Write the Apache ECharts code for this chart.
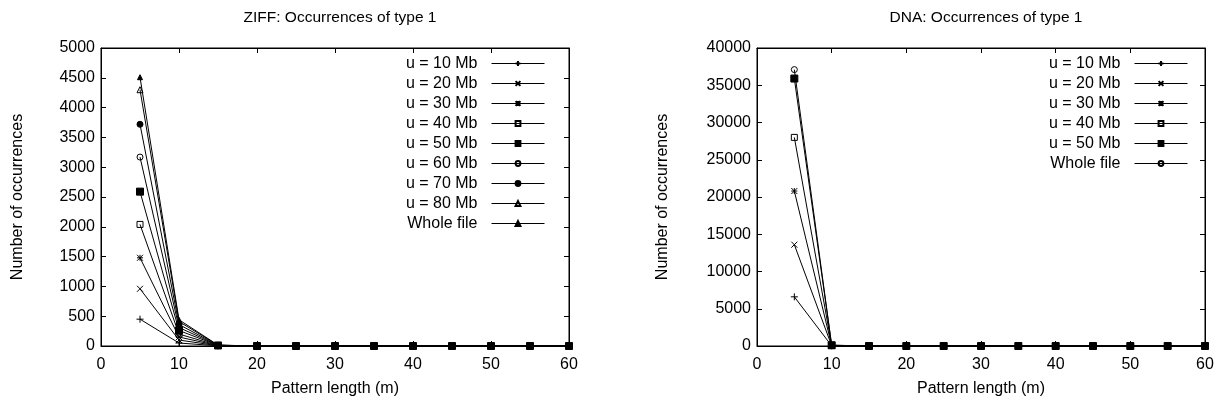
<!DOCTYPE html>
<html>
<head>
<meta charset="utf-8">
<script src="https://cdn.jsdelivr.net/npm/echarts@6/dist/echarts.min.js"></script>
<style>
html,body{margin:0;padding:0;background:#fff;}
#c1{position:absolute;left:0;top:0;width:615px;height:410px;}
#c2{position:absolute;left:615px;top:0;width:615px;height:410px;}
</style>
</head>
<body>
<div id="c1"></div>
<div id="c2"></div>
<script>
// ---- data ----
const patternLengths = [5, 10, 15, 20, 25, 30, 35, 40, 45, 50, 55, 60];

const ziffNames = ['u = 10 Mb', 'u = 20 Mb', 'u = 30 Mb', 'u = 40 Mb', 'u = 50 Mb', 'u = 60 Mb', 'u = 70 Mb', 'u = 80 Mb', 'Whole file'];
const ziff10 = [450, 50, 3, 0, 0, 0, 0, 0, 0, 0, 0, 0];
const ziff20 = [960, 100, 4, 0, 0, 0, 0, 0, 0, 0, 0, 0];
const ziff30 = [1480, 150, 6, 0, 0, 0, 0, 0, 0, 0, 0, 0];
const ziff40 = [2040, 200, 8, 0, 0, 0, 0, 0, 0, 0, 0, 0];
const ziff50 = [2590, 260, 9, 0, 0, 0, 0, 0, 0, 0, 0, 0];
const ziff60 = [3170, 310, 11, 0, 0, 0, 0, 0, 0, 0, 0, 0];
const ziff70 = [3720, 360, 12, 0, 0, 0, 0, 0, 0, 0, 0, 0];
const ziff80 = [4300, 410, 14, 0, 0, 0, 0, 0, 0, 0, 0, 0];
const ziffWhole = [4510, 440, 15, 0, 0, 0, 0, 0, 0, 0, 0, 0];
const ziffSeries = [ziff10, ziff20, ziff30, ziff40, ziff50, ziff60, ziff70, ziff80, ziffWhole];

const dnaNames = ['u = 10 Mb', 'u = 20 Mb', 'u = 30 Mb', 'u = 40 Mb', 'u = 50 Mb', 'Whole file'];
const dna10 = [6600, 20, 0, 0, 0, 0, 0, 0, 0, 0, 0, 0];
const dna20 = [13600, 40, 0, 0, 0, 0, 0, 0, 0, 0, 0, 0];
const dna30 = [20800, 60, 0, 0, 0, 0, 0, 0, 0, 0, 0, 0];
const dna40 = [28000, 80, 0, 0, 0, 0, 0, 0, 0, 0, 0, 0];
const dna50 = [35900, 100, 0, 0, 0, 0, 0, 0, 0, 0, 0, 0];
const dnaWhole = [37100, 110, 0, 0, 0, 0, 0, 0, 0, 0, 0, 0];
const dnaSeries = [dna10, dna20, dna30, dna40, dna50, dnaWhole];

// ---- styling helpers ----
const FONT = 'Liberation Sans, Arial, Helvetica, sans-serif';
const OPEN = 'rgba(255,255,255,0)';
const PLUS = 'path://M0,5L10,5M5,0L5,10';
const CROSS = 'path://M0,0L10,10M0,10L10,0';
const STAR = 'path://M0,0L10,10M0,10L10,0M5,0L5,10M0,5L10,5';
const markers = [
  {symbol: PLUS, size: 7, fill: '#000'},
  {symbol: CROSS, size: 6, fill: '#000'},
  {symbol: STAR, size: 6, fill: '#000'},
  {symbol: 'rect', size: 6, fill: OPEN},
  {symbol: 'rect', size: 7, fill: '#000'},
  {symbol: 'circle', size: 6, fill: OPEN},
  {symbol: 'circle', size: 6, fill: '#000'},
  {symbol: 'triangle', size: 6, fill: OPEN},
  {symbol: 'triangle', size: 5, fill: '#000'}
];

function makeSeries(names, arrays, markerIdx) {
  return names.map((n, i) => {
    const m = markers[markerIdx[i]];
    return {
      name: n,
      type: 'line',
      xAxisIndex: 0,
      yAxisIndex: 0,
      data: patternLengths.map((x, k) => [x, arrays[i][k]]),
      symbol: m.symbol,
      symbolSize: m.size,
      showAllSymbol: true,
      clip: false,
      lineStyle: {color: '#000', width: 1},
      itemStyle: {color: m.fill, borderColor: '#000', borderWidth: 1},
      emphasis: {disabled: true},
      animation: false
    };
  });
}

function axisCommon() {
  return {
    axisLine: {show: true, onZero: false, lineStyle: {color: '#000', width: 1}},
    axisTick: {show: true, inside: true, length: 5, lineStyle: {color: '#000', width: 1}},
    splitLine: {show: false},
    axisLabel: {color: '#000', fontSize: 16, fontFamily: FONT, formatter: (v) => String(v)}
  };
}

function makeOption(cfg) {
  const xa = Object.assign(axisCommon(), {
    type: 'value', min: 0, max: 60, interval: 10, position: 'bottom',
    name: 'Pattern length (m)', nameLocation: 'middle', nameGap: 35,
    nameTextStyle: {color: '#000', fontSize: 16, fontFamily: FONT}
  });
  xa.axisLabel.margin = 11;
  const xaTop = Object.assign(axisCommon(), {
    type: 'value', min: 0, max: 60, interval: 10, position: 'top'
  });
  xaTop.axisLabel.show = false;
  const ya = Object.assign(axisCommon(), {
    type: 'value', min: 0, max: cfg.ymax, interval: cfg.yint, position: 'left',
    name: 'Number of occurrences', nameLocation: 'middle', nameGap: cfg.yNameGap,
    nameTextStyle: {color: '#000', fontSize: 16, fontFamily: FONT}
  });
  ya.axisLabel.margin = 6;
  const yaRight = Object.assign(axisCommon(), {
    type: 'value', min: 0, max: cfg.ymax, interval: cfg.yint, position: 'right'
  });
  yaRight.axisLabel.show = false;

  return {
    animation: false,
    backgroundColor: '#fff',
    title: {
      text: cfg.title, left: cfg.titleCenter, top: 5, textAlign: 'center',
      textStyle: {color: '#000', fontSize: 15.5, fontWeight: 'normal', fontFamily: FONT}
    },
    grid: {left: cfg.gridLeft, top: 48, width: cfg.gridWidth, height: 298,
           show: true, borderColor: '#000', borderWidth: 1, backgroundColor: 'transparent'},
    xAxis: [xa, xaTop],
    yAxis: [ya, yaRight],
    legend: {
      orient: 'vertical', align: 'right', right: cfg.legendRight, top: 53.5,
      padding: 0, itemGap: 0, itemWidth: 53, itemHeight: 6,
      data: cfg.names,
      selectedMode: false,
      lineStyle: {width: 1, color: '#000'},
      textStyle: {color: '#000', fontSize: 16, fontFamily: FONT, lineHeight: 20, padding: [0, 9, 0, 0]}
    },
    series: makeSeries(cfg.names, cfg.arrays, cfg.markerIdx)
  };
}

const chart1 = echarts.init(document.getElementById('c1'), null, {renderer: 'canvas'});
chart1.setOption(makeOption({
  title: 'ZIFF: Occurrences of type 1', titleCenter: 335,
  gridLeft: 101, gridWidth: 468, ymax: 5000, yint: 500, yNameGap: 75,
  legendRight: 615 - 545,
  names: ziffNames, arrays: ziffSeries, markerIdx: [0, 1, 2, 3, 4, 5, 6, 7, 8]
}));

const chart2 = echarts.init(document.getElementById('c2'), null, {renderer: 'canvas'});
chart2.setOption(makeOption({
  title: 'DNA: Occurrences of type 1', titleCenter: 366,
  gridLeft: 142, gridWidth: 448, ymax: 40000, yint: 5000, yNameGap: 86,
  legendRight: 42,
  names: dnaNames, arrays: dnaSeries, markerIdx: [0, 1, 2, 3, 4, 5]
}));
</script>
</body>
</html>
